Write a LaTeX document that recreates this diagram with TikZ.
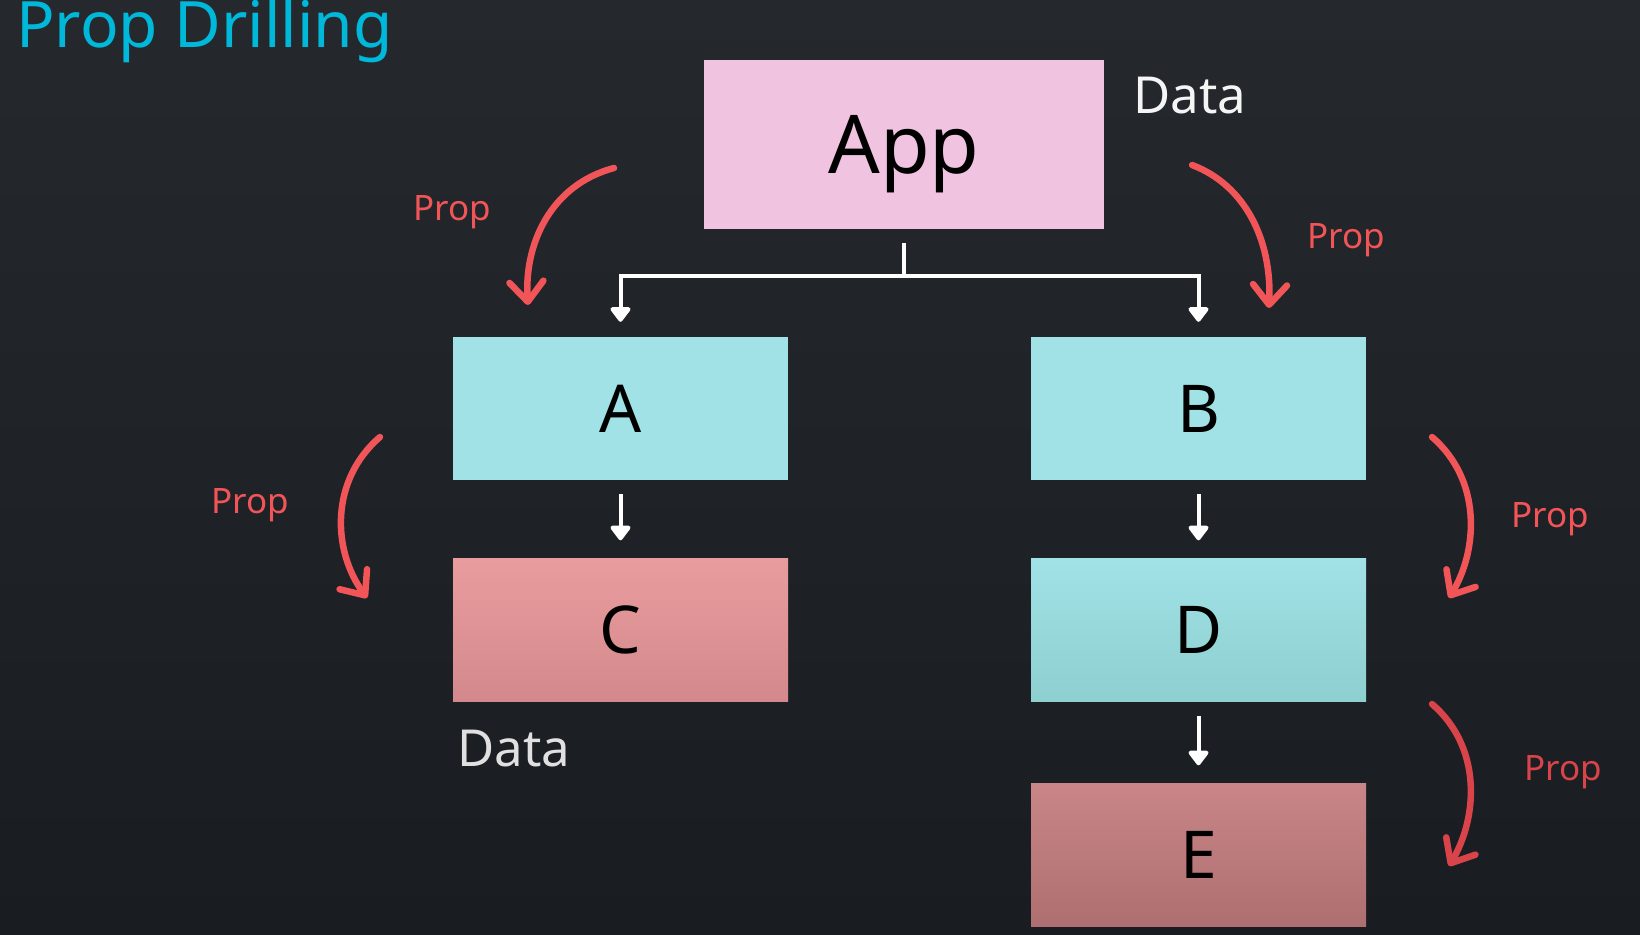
\documentclass[tikz,border=0pt]{standalone}
\usepackage{fontspec}
\setmainfont{Noto Sans}
\usetikzlibrary{arrows.meta,calc}
\definecolor{bgtop}{HTML}{25282D}
\definecolor{bgbot}{HTML}{191C21}
\definecolor{titlec}{HTML}{00B8D9}
\definecolor{appc}{HTML}{F0C3E0}
\definecolor{cyanbox}{HTML}{A0E2E6}
\definecolor{cyanboxb}{HTML}{8ECFD0}
\definecolor{ctop}{HTML}{E99C9E}
\definecolor{cbot}{HTML}{D3898C}
\definecolor{etop}{HTML}{C98587}
\definecolor{ebot}{HTML}{AE6F70}
\definecolor{propc}{HTML}{F25558}
\definecolor{propd}{HTML}{D9444A}
\tikzset{
  box/.style={rectangle, draw=none, minimum width=335pt, minimum height=143pt, inner sep=0pt, text depth=0pt, text=black, font=\fontsize{66}{70}\selectfont},
  conn/.style={draw=white, line width=4pt, -{Triangle[width=23pt,length=16pt,round]}},
  wline/.style={draw=white, line width=4pt},
  redarrow/.style={line width=6.5pt, line cap=round, -{Straight Barb[length=20pt,width=34pt,round]}},
  proplbl/.style={anchor=base west, inner sep=0pt, font=\fontsize{35}{40}\selectfont},
  datalbl/.style={anchor=base west, inner sep=0pt, font=\fontsize{51}{56}\selectfont}
}
\begin{document}
\begin{tikzpicture}[x=1pt,y=-1pt]
\shade[top color=bgtop, bottom color=bgbot] (0,0) rectangle (1640,934);
\useasboundingbox (0,0) rectangle (1640,934);

\node[anchor=base west, inner sep=0pt, text=titlec, font=\fontsize{64}{68}\selectfont] (title) at (16,48) {Prop Drilling};

\node[box, fill=appc, minimum width=400pt, minimum height=169pt, font=\fontsize{81}{86}\selectfont] (app) at (904,144.5) {App};
\node[box, fill=cyanbox] (a) at (620.5,408.5) {A};
\node[box, fill=cyanbox] (b) at (1198.5,408.5) {B};
\node[box, top color=ctop, bottom color=cbot] (c) at (620.5,630) {C};
\node[box, top color=cyanbox, bottom color=cyanboxb] (d) at (1198.5,630) {D};
\node[box, top color=etop, bottom color=ebot] (e) at (1198.5,855) {E};

\node[datalbl, text=white!96!black] (data1) at (1133,113) {Data};
\node[datalbl, text=white!88!black] (data2) at (457,766) {Data};

% white connectors
\coordinate (j) at ($(app.south)+(0,47)$);
\draw[wline] ([yshift=-14pt]app.south) -- (j);
\draw[conn] (j) -| ([yshift=15pt]a.north);
\draw[conn] (j) -| ([yshift=15pt]b.north);
\draw[conn] ([yshift=-14pt]a.south) -- ([yshift=18pt]c.north);
\draw[conn] ([yshift=-14pt]b.south) -- ([yshift=18pt]d.north);
\draw[conn] ([yshift=-14pt]d.south) -- ([yshift=18pt]e.north);

% red prop arrows
\coordinate (s1) at (614,168); \coordinate (t1) at (528,305);
\draw[redarrow, draw=propc] (s1) .. controls (550,185) and (524,245) .. (t1);
\node[proplbl, text=propc] (p1) at (413,220) {Prop};

\coordinate (s2) at (1192,165); \coordinate (t2) at (1269,308);
\draw[redarrow, draw=propc] (s2) .. controls (1245,185) and (1272,240) .. (t2);
\node[proplbl, text=propc] (p2) at (1307,248) {Prop};

\coordinate (s3) at (380,437); \coordinate (t3) at (367,598);
\draw[redarrow, draw=propc] (s3) .. controls (330,480) and (332,550) .. (t3);
\node[proplbl, text=propc] (p3) at (211,513) {Prop};

\coordinate (s4) at (1432,437); \coordinate (t4) at (1449,598);
\draw[redarrow, draw=propc] (s4) .. controls (1482,480) and (1478,550) .. (t4);
\node[proplbl, text=propc] (p4) at (1511,527) {Prop};

\coordinate (s5) at (1432,704); \coordinate (t5) at (1449,866);
\draw[redarrow, draw=propd] (s5) .. controls (1482,747) and (1478,817) .. (t5);
\node[proplbl, text=propd] (p5) at (1524,780) {Prop};
\end{tikzpicture}
\end{document}
